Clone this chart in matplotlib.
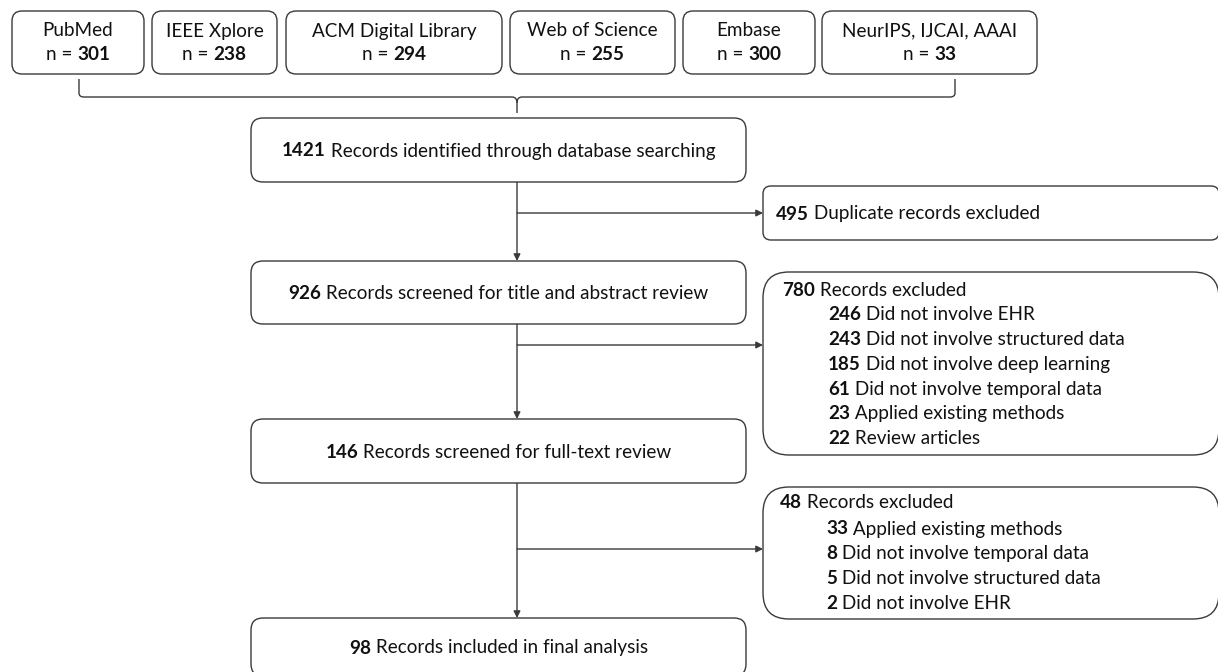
import matplotlib
matplotlib.use("Agg")
import matplotlib.pyplot as plt
from matplotlib.patches import FancyBboxPatch, FancyArrowPatch, PathPatch
from matplotlib.path import Path

plt.rcParams['font.family'] = ['Lato', 'DejaVu Sans']

# data
sources = ["PubMed", "IEEE Xplore", "ACM Digital Library", "Web of Science",
           "Embase", "NeurIPS, IJCAI, AAAI"]
source_n = [301, 238, 294, 255, 300, 33]

stage_n = [1421, 926, 146, 98]
stage_text = ["Records identified through database searching",
              "Records screened for title and abstract review",
              "Records screened for full-text review",
              "Records included in final analysis"]

dup_n = 495
dup_text = "Duplicate records excluded"

screen_excl_n = 780
screen_reasons = ["Did not involve EHR", "Did not involve structured data",
                  "Did not involve deep learning", "Did not involve temporal data",
                  "Applied existing methods", "Review articles"]
screen_reason_n = [246, 243, 185, 61, 23, 22]

full_excl_n = 48
full_reasons = ["Applied existing methods", "Did not involve temporal data",
                "Did not involve structured data", "Did not involve EHR"]
full_reason_n = [33, 8, 5, 2]

W, H = 1218, 672
fig = plt.figure(figsize=(W / 100, H / 100), dpi=100)
ax = fig.add_axes([0, 0, 1, 1])
ax.set_xlim(0, W)
ax.set_ylim(H, 0)
ax.axis('off')

LC = '#3a3a3a'
TC = '#111111'
FS = 13.6
LW = 1.0
renderer = fig.canvas.get_renderer()


def box(x0, y0, x1, y1, r=8):
    p = FancyBboxPatch((x0, y0), x1 - x0, y1 - y0,
                       boxstyle=f"round,pad=0,rounding_size={r}",
                       fc='white', ec=LC, lw=LW, zorder=2)
    ax.add_patch(p)


def segs(x, y, parts, align='left'):
    # parts: list of (text, bold) drawn one after another
    texts = []
    for s, bold in parts:
        t = ax.text(0, y, s, fontsize=FS, color=TC, va='center', ha='left',
                    fontweight='bold' if bold else 'normal', zorder=3)
        texts.append(t)
    widths = [t.get_window_extent(renderer).width for t in texts]
    if align == 'center':
        x = x - sum(widths) / 2
    for t, w in zip(texts, widths):
        t.set_x(x)
        x += w


def mixed(x, y, num, rest, align='left'):
    segs(x, y, [(str(num), True), (" " + rest, False)], align)


def arrow(p0, p1):
    a = FancyArrowPatch(p0, p1, arrowstyle='-|>', mutation_scale=10,
                        color=LC, lw=LW, shrinkA=0, shrinkB=0, zorder=1)
    ax.add_patch(a)


# source boxes
src_x = [(12, 144), (152, 277), (286, 502), (510, 675), (683, 815), (822, 1037)]
for (x0, x1), name, n in zip(src_x, sources, source_n):
    box(x0, 11, x1, 74, r=10)
    cx = (x0 + x1) / 2
    ax.text(cx, 31, name, fontsize=FS, color=TC, ha='center', va='center', zorder=3)
    segs(cx, 55, [("n = ", False), (str(n), True)], align='center')

# brace
vx = 517
verts = [(79, 79), (79, 93), (79, 97), (84, 97), (vx - 5, 97), (vx, 97), (vx, 103),
         (vx, 113)]
codes = [Path.MOVETO, Path.LINETO, Path.CURVE3, Path.CURVE3, Path.LINETO,
         Path.CURVE3, Path.CURVE3, Path.LINETO]
ax.add_patch(PathPatch(Path(verts, codes), fc='none', ec=LC, lw=LW))
verts = [(955, 79), (955, 93), (955, 97), (950, 97), (vx + 5, 97), (vx, 97), (vx, 103)]
codes = [Path.MOVETO, Path.LINETO, Path.CURVE3, Path.CURVE3, Path.LINETO,
         Path.CURVE3, Path.CURVE3]
ax.add_patch(PathPatch(Path(verts, codes), fc='none', ec=LC, lw=LW))

# main stage boxes
stage_y = [(118, 182), (261, 324), (419, 483), (618, 676)]
for (y0, y1), n, t in zip(stage_y, stage_n, stage_text):
    box(251, y0, 746, y1, r=12)
    mixed(498.5, (y0 + y1) / 2 + 1, n, t, align='center')

# vertical arrows
for (a0, a1), (b0, b1) in zip(stage_y[:-1], stage_y[1:]):
    arrow((vx, a1), (vx, b0))

# side boxes
RX = 1219
box(763, 186, RX, 240, r=8)
mixed(776, 214, dup_n, dup_text)
box(763, 272, RX, 455, r=26)
mixed(782, 290, screen_excl_n, "Records excluded")
for i, (n, t) in enumerate(zip(screen_reason_n, screen_reasons)):
    mixed(828, 315 + i * 24.7, n, t)
box(763, 487, RX, 619, r=26)
mixed(780, 503, full_excl_n, "Records excluded")
for i, (n, t) in enumerate(zip(full_reason_n, full_reasons)):
    mixed(826, 529 + i * 24.8, n, t)

# horizontal arrows
for y in [213, 345, 549]:
    arrow((vx, y), (763, y))

fig.savefig("out.png", dpi=100)
